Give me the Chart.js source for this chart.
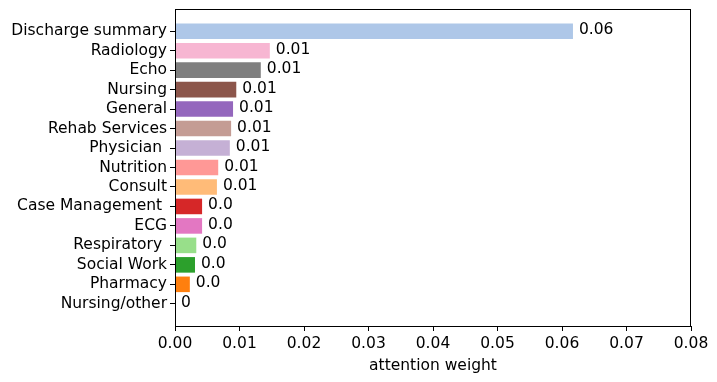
<!DOCTYPE html>
<html>
<head>
<meta charset="utf-8">
<script src="https://cdn.jsdelivr.net/npm/chart.js@4.4.1/dist/chart.umd.min.js"></script>
<style>
html,body{margin:0;padding:0;background:#fff;}
#wrap{width:717px;height:382px;position:relative;}
</style>
</head>
<body>
<div id="wrap"><canvas id="c" width="717" height="382"></canvas></div>
<script>
const categories = ["Discharge summary","Radiology","Echo","Nursing","General","Rehab Services","Physician ","Nutrition","Consult","Case Management ","ECG","Respiratory ","Social Work","Pharmacy","Nursing/other"];
const values = [0.0617,0.0147,0.0133,0.0095,0.0090,0.0087,0.0085,0.0067,0.0065,0.0042,0.0042,0.0033,0.0031,0.0023,0];
const valueLabels = ["0.06","0.01","0.01","0.01","0.01","0.01","0.01","0.01","0.01","0.0","0.0","0.0","0.0","0.0","0"];
const barColors = ["#aec7e8","#f7b6d2","#7f7f7f","#8c564b","#9467bd","#c49c94","#c5b0d5","#ff9896","#ffbb78","#d62728","#e377c2","#98df8a","#2ca02c","#ff7f0e","#1f77b4"];
const xTicks = [0,0.01,0.02,0.03,0.04,0.05,0.06,0.07,0.08];

const FONT = {family:"'DejaVu Sans', sans-serif", size:15.5};
Chart.defaults.color = '#000';
Chart.defaults.font.family = FONT.family;
Chart.defaults.font.size = FONT.size;

const framePlugin = {
  id:'frame',
  afterDraw(chart){
    const a = chart.chartArea, ctx = chart.ctx;
    ctx.save();
    ctx.strokeStyle = '#000'; ctx.lineWidth = 1;
    const l = Math.round(a.left)+0.5, t = Math.round(a.top)+0.5;
    const r = Math.round(a.right)-0.5, b = Math.round(a.bottom)+0.5;
    ctx.strokeRect(l, t, r-l, b-t);
    ctx.restore();
  }
};
const labelPlugin = {
  id:'vlabels',
  afterDatasetsDraw(chart){
    const ctx = chart.ctx;
    const meta = chart.getDatasetMeta(0);
    ctx.save();
    ctx.font = FONT.size + 'px ' + FONT.family;
    ctx.fillStyle = '#000';
    ctx.textAlign = 'left';
    ctx.textBaseline = 'middle';
    meta.data.forEach((el,i)=>{
      ctx.fillText(valueLabels[i], el.x + 6, el.y - 1);
    });
    ctx.restore();
  }
};

new Chart(document.getElementById('c'), {
  type:'bar',
  data:{
    datasets:[{
      data: values.map((v,i)=>({x:v,y:i})),
      backgroundColor: barColors,
      borderWidth:0,
      barPercentage:0.8,
      categoryPercentage:1.0
    }]
  },
  options:{
    indexAxis:'y',
    responsive:false,
    animation:false,
    devicePixelRatio:1,
    layout:{padding:{top:9,right:26,left:0,bottom:0}},
    plugins:{legend:{display:false},tooltip:{enabled:false}},
    scales:{
      x:{
        type:'linear', min:0, max:0.08,
        afterBuildTicks: ax => { ax.ticks = xTicks.map(v=>({value:v})); },
        afterFit: ax => { ax.height = 56; ax.paddingLeft = 0; ax.paddingRight = 0; },
        ticks:{callback:v=>Number(v).toFixed(2), padding:4, maxRotation:0, autoSkip:false, color:'#000'},
        grid:{display:true, drawOnChartArea:false, drawTicks:true, tickLength:5, color:'#000'},
        border:{display:false},
        title:{display:true, text:'attention weight', color:'#000', padding:{top:2,bottom:7}}
      },
      y:{
        type:'linear', min:-1.14, max:15.14, reverse:true, offset:false,
        afterBuildTicks: ax => { ax.ticks = categories.map((c,i)=>({value:i})); },
        afterFit: ax => { ax.width = 175; ax.paddingTop = 0; ax.paddingBottom = 0; },
        ticks:{callback:v=>categories[v], padding:3, autoSkip:false, color:'#000'},
        grid:{display:true, offset:false, drawOnChartArea:false, drawTicks:true, tickLength:5, color:'#000'},
        border:{display:false}
      }
    }
  },
  plugins:[framePlugin,labelPlugin]
});
</script>
</body>
</html>
